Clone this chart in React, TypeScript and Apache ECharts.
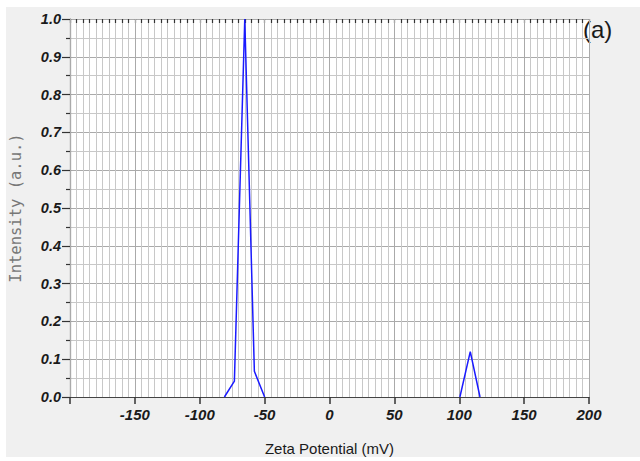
import React, { useEffect, useRef } from "react";
import * as echarts from "echarts";

// Peak 1 (main population)
const peak1Zeta = [-81, -73.3, -65.3, -57.9, -50];
const peak1Intensity = [0, 0.042, 1.0, 0.068, 0];
// Peak 2 (minor population)
const peak2Zeta = [100.5, 108.5, 116];
const peak2Intensity = [0, 0.12, 0];

const xMin = -200;
const xMax = 200;
const yTickLabels = ["0.0", "0.1", "0.2", "0.3", "0.4", "0.5", "0.6", "0.7", "0.8", "0.9", "1.0"];

const toPairs = (xs: number[], ys: number[]) => xs.map((x, i) => [x, ys[i]]);

export default function App() {
  const ref = useRef<HTMLDivElement>(null);
  useEffect(() => {
    if (!ref.current) return;
    const chart = echarts.init(ref.current, undefined, { renderer: "svg" });
    const labelFont = {
      fontFamily: "Liberation Sans, Arial, sans-serif",
      fontWeight: "bold" as const,
      fontStyle: "italic" as const,
      color: "#1a1a1a",
    };
    chart.setOption({
      animation: false,
      backgroundColor: "#ffffff",
      graphic: [
        {
          type: "rect",
          z: -10,
          silent: true,
          shape: { x: 6, y: 7, width: 634, height: 450 },
          style: { fill: "#f0f0f0" },
        },
        {
          type: "text",
          x: 583,
          y: 29,
          style: {
            text: "(a)",
            fontSize: 24,
            fontFamily: "Liberation Sans, Arial, sans-serif",
            fill: "#1a1a1a",
            textVerticalAlign: "middle",
          },
        },
      ],
      grid: {
        left: 67,
        right: 51,
        top: 19,
        bottom: 63,
        show: true,
        backgroundColor: "#ffffff",
        borderWidth: 0,
      },
      xAxis: [
        {
          type: "value",
          min: xMin,
          max: xMax,
          interval: 50,
          z: 1,
          name: "Zeta Potential (mV)",
          nameLocation: "middle",
          nameGap: 44,
          nameTextStyle: {
            fontSize: 15,
            fontFamily: "Liberation Sans, Arial, sans-serif",
            color: "#1a1a1a",
          },
          axisLine: { show: true, onZero: false, lineStyle: { color: "#444", width: 1.2 } },
          axisTick: { show: true, inside: false, length: 7, lineStyle: { color: "#333", width: 1.5 } },
          axisLabel: {
            ...labelFont,
            fontSize: 15,
            margin: 10,
            formatter: (v: number) => (v === xMin ? "" : String(v)),
          },
          splitLine: { show: true, lineStyle: { color: "#aaaaaa", width: 1 } },
        },
        {
          type: "value",
          min: xMin,
          max: xMax,
          interval: 5,
          z: 0,
          axisLine: { show: false, onZero: false },
          axisTick: { show: true, inside: true, length: 4, lineStyle: { color: "#333", width: 1.2 } },
          axisLabel: { show: false },
          splitLine: { show: true, lineStyle: { color: "#c8c8c8", width: 1 } },
        },
      ],
      yAxis: {
        type: "value",
        min: 0,
        max: 1,
        interval: 0.1,
        name: "Intensity (a.u.)",
        nameLocation: "middle",
        nameGap: 46,
        nameTextStyle: {
          fontSize: 15.5,
          fontFamily: "DejaVu Sans Mono, monospace",
          color: "#777777",
        },
        axisLine: { show: true, onZero: false, lineStyle: { color: "#666", width: 1.2 } },
        axisTick: { show: true, inside: false, length: 8, lineStyle: { color: "#333", width: 1.2 } },
        minorTick: { show: true, splitNumber: 2, length: 4, lineStyle: { color: "#333", width: 1.2 } },
        axisLabel: {
          ...labelFont,
          fontSize: 14.5,
          margin: 9,
          formatter: (v: number) => yTickLabels[Math.round(v * 10)] ?? "",
        },
        splitLine: { show: true, lineStyle: { color: "#aaaaaa", width: 1 } },
        minorSplitLine: { show: true, lineStyle: { color: "#c8c8c8", width: 1 } },
      },
      series: [
        {
          type: "line",
          xAxisIndex: 0,
          data: toPairs(peak1Zeta, peak1Intensity),
          showSymbol: false,
          symbol: "none",
          lineStyle: { color: "#1a1aff", width: 1.5 },
          z: 5,
        },
        {
          type: "line",
          xAxisIndex: 0,
          data: toPairs(peak2Zeta, peak2Intensity),
          showSymbol: false,
          symbol: "none",
          lineStyle: { color: "#1a1aff", width: 1.5 },
          z: 5,
        },
      ],
    });
    return () => chart.dispose();
  }, []);
  return (
    <div
      ref={ref}
      style={{ position: "absolute", left: 0, top: 0, width: 640, height: 461 }}
    />
  );
}
